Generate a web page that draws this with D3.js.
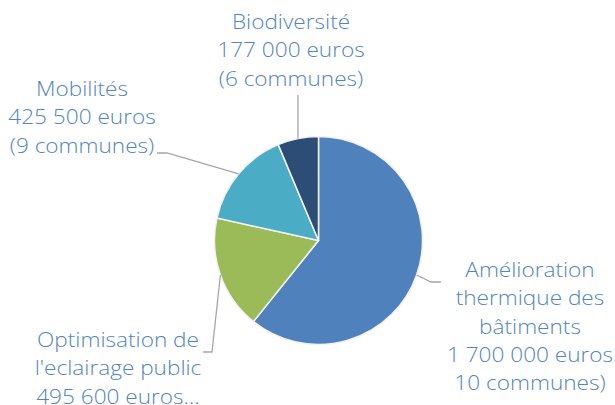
<!DOCTYPE html>
<html>
<head>
<meta charset="utf-8">
<script src="https://cdn.jsdelivr.net/npm/d3@7"></script>
<style>
  html, body { margin: 0; padding: 0; background: #fff; }
  svg { display: block; }
</style>
</head>
<body>
<div id="chart"></div>
<script>
// data
var categories = ["Amélioration thermique des bâtiments", "Optimisation de l'eclairage public", "Mobilités", "Biodiversité"];
var amounts = [1700000, 495600, 425500, 177000];
var labelLines = [
  ["Amélioration", "thermique des", "bâtiments", "1 700 000 euros", "10 communes)"],
  ["Optimisation de", "l'eclairage public", "495 600 euros…"],
  ["Mobilités", "425 500 euros", "(9 communes)"],
  ["Biodiversité", "177 000 euros", "(6 communes)"]
];
var colors = ["#4f81bd", "#9bbb59", "#4bacc6", "#2c4d75"];

// label layout (elbow + end of leader, text centre and first baseline)
var labelPos = [
  { elbow: [431, 282], end: [441, 282], tx: 530, ty: 277 },
  { elbow: [212, 352], end: [203, 352], tx: 118, ty: 347 },
  { elbow: [167, 153], end: [157, 153], tx: 82, ty: 96 },
  { elbow: null, end: [298, 95], tx: 291, ty: 29 }
];

var width = 615, height = 405,
    cx = 318.5, cy = 240.5, radius = 104,
    lineH = 28.3, stretch = 1.13;

var svg = d3.select("#chart").append("svg")
  .attr("width", width)
  .attr("height", height);

var pie = d3.pie().sort(null).value(function (d) { return d; });
var arcs = pie(amounts);
var arc = d3.arc().innerRadius(0).outerRadius(radius);

var g = svg.append("g").attr("transform", "translate(" + cx + "," + cy + ")");

g.selectAll("path.slice")
  .data(arcs)
  .enter().append("path")
  .attr("class", "slice")
  .attr("d", arc)
  .attr("fill", function (d, i) { return colors[i]; })
  .attr("stroke", "#f2f2f2")
  .attr("stroke-width", 1.5)
  .attr("stroke-linejoin", "round");

// leader lines
arcs.forEach(function (d, i) {
  var a = (d.startAngle + d.endAngle) / 2;
  var p0 = [cx + Math.sin(a) * radius, cy - Math.cos(a) * radius];
  var lp = labelPos[i];
  var pts = [p0];
  if (lp.elbow) pts.push(lp.elbow);
  pts.push(lp.end);
  if (!lp.elbow) pts[1] = [p0[0], lp.end[1]];
  svg.append("path")
    .attr("d", d3.line()(pts))
    .attr("fill", "none")
    .attr("stroke", "#a6a6a6")
    .attr("stroke-width", 1.3);
});

// labels (font stretched a little to get the wide look of the original)
labelLines.forEach(function (lines, i) {
  var lp = labelPos[i];
  var t = svg.append("text")
    .attr("transform", "translate(" + lp.tx + ",0) scale(" + stretch + ",1)")
    .attr("text-anchor", "middle")
    .attr("fill", "#5283c3")
    .style("font-family", "'Open Sans', sans-serif")
    .style("font-weight", 300)
    .style("font-size", "20px");
  lines.forEach(function (s, j) {
    t.append("tspan")
      .attr("x", 0)
      .attr("y", lp.ty + j * lineH)
      .text(s);
  });
});
</script>
</body>
</html>
